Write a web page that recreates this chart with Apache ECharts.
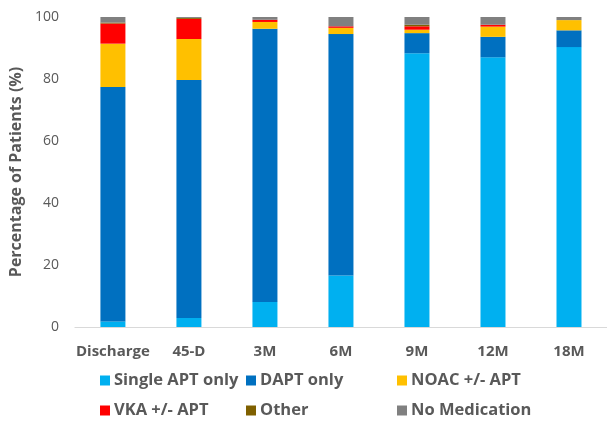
<!DOCTYPE html>
<html>
<head>
<meta charset="utf-8">
<script src="https://cdn.jsdelivr.net/npm/echarts@6/dist/echarts.min.js"></script>
<style>html,body{margin:0;padding:0;background:#fff;}#c{width:607px;height:422px;}</style>
</head>
<body>
<div id="c"></div>
<script>
var categories = ['Discharge', '45-D', '3M', '6M', '9M', '12M', '18M'];
var singleAPT = [1.8, 2.9, 8.1, 16.6, 88.3, 87.0, 90.3];
var dapt = [75.6, 76.8, 88.1, 77.9, 6.5, 6.6, 5.4];
var noac = [14.0, 13.2, 2.2, 2.0, 1.1, 3.3, 3.3];
var vka = [6.5, 6.5, 0.7, 0.5, 1.1, 0.6, 0];
var other = [0.3, 0.3, 0, 0, 0.5, 0, 0];
var noMed = [1.8, 0.3, 0.9, 3.0, 2.5, 2.5, 1.0];
var yTicks = [0, 20, 40, 60, 80, 100];

var names = ['Single APT only', 'DAPT only', 'NOAC +/- APT', 'VKA +/- APT', 'Other', 'No Medication'];
var colors = ['#00B0F0', '#0070C0', '#FFC000', '#FF0000', '#7F6000', '#808080'];
var values = [singleAPT, dapt, noac, vka, other, noMed];
var legendPos = [[100, 372], [246, 372], [397, 372], [100, 402], [246, 402], [397, 402]];
var font = '"Open Sans", sans-serif';

var chart = echarts.init(document.getElementById('c'), null, {renderer: 'canvas'});
chart.setOption({
  animation: false,
  textStyle: {fontFamily: font},
  color: colors,
  grid: {left: 71, right: -15, top: 17, bottom: 95, containLabel: false},
  legend: names.map(function (n, i) {
    return {
      data: [n], left: legendPos[i][0], top: legendPos[i][1], padding: 0,
      icon: 'rect', itemWidth: 10, itemHeight: 10, itemGap: 0,
      selectedMode: false,
      textStyle: {fontFamily: font, fontSize: 16.5, fontWeight: 'bold', color: '#595959', padding: [0, 0, 0, -1]}
    };
  }),
  xAxis: {
    type: 'category', data: categories,
    axisLine: {lineStyle: {color: '#D9D9D9', width: 1}},
    axisTick: {show: false},
    axisLabel: {fontFamily: font, fontSize: 15, fontWeight: 'bold', color: '#595959', margin: 17, interval: 0}
  },
  yAxis: {
    type: 'value', min: yTicks[0], max: yTicks[yTicks.length - 1], interval: 20,
    name: 'Percentage of Patients (%)', nameLocation: 'middle', nameGap: 42,
    nameTextStyle: {fontFamily: font, fontSize: 16, fontWeight: 'bold', color: '#595959'},
    axisLine: {show: false}, axisTick: {show: false}, splitLine: {show: false},
    axisLabel: {fontFamily: font, fontSize: 14, color: '#595959', margin: 16}
  },
  series: names.map(function (n, i) {
    return {
      name: n, type: 'bar', stack: 'total', data: values[i], barWidth: 25,
      itemStyle: {color: colors[i]}
    };
  })
});
</script>
</body>
</html>
